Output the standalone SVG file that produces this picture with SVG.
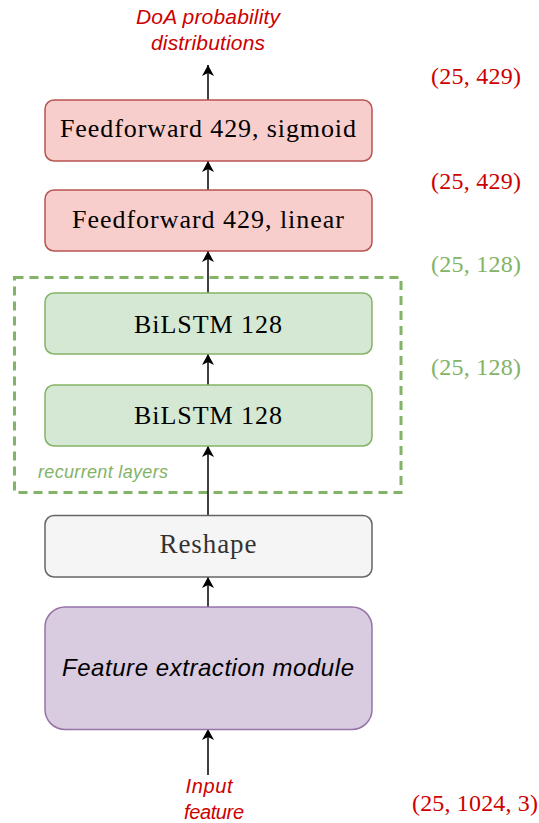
<svg xmlns="http://www.w3.org/2000/svg" width="539" height="823" viewBox="0 0 539 823">
<style>
.node{stroke-width:1.5}
.pink{fill:#f8cecc;stroke:#b85450}
.green{fill:#d5e8d4;stroke:#82b366}
.gray{fill:#f5f5f5;stroke:#666666}
.purple{fill:#d9cbe0;stroke:#9673a6}
.lbl{font-family:"Liberation Serif",serif;font-size:26px;fill:#000;text-anchor:middle}
.sans{font-family:"Liberation Sans",Arial,sans-serif;font-style:italic;text-anchor:middle}
.red{fill:#cc0000}
.math{font-family:"Liberation Serif",serif;font-size:24px}
.conn{stroke:#000;stroke-width:1.5;fill:none;marker-end:url(#arr)}
</style>
<defs>
<marker id="arr" markerUnits="userSpaceOnUse" markerWidth="12" markerHeight="14" viewBox="0 0 12 14" refX="11" refY="7" orient="auto">
<path d="M0,1 L11,7 L0,13 L3,7 Z" fill="#000"/>
</marker>
</defs>
<rect id="recurrent" x="14.5" y="277.5" width="386.5" height="215" fill="none" stroke="#82b366" stroke-width="3" stroke-dasharray="9,6"/>
<text x="38" y="478" class="sans" style="font-size:18px;text-anchor:start;fill:#82b366" textLength="130">recurrent layers</text>
<g id="conns">
<line class="conn" x1="208" y1="100" x2="208" y2="65"/>
<line class="conn" x1="208" y1="190" x2="208" y2="161"/>
<line class="conn" x1="208" y1="293" x2="208" y2="251"/>
<line class="conn" x1="208" y1="385" x2="208" y2="354"/>
<line class="conn" x1="208" y1="515" x2="208" y2="446"/>
<line class="conn" x1="208" y1="607" x2="208" y2="577"/>
<line class="conn" x1="208" y1="775" x2="208" y2="729"/>
</g>
<g id="ff_sigmoid">
<rect class="node pink" x="45" y="100" width="327" height="61" rx="9"/>
<text class="lbl" x="208" y="137" textLength="296">Feedforward 429, sigmoid</text>
</g>
<g id="ff_linear">
<rect class="node pink" x="45" y="190" width="327" height="61" rx="9"/>
<text class="lbl" x="208" y="228" textLength="272">Feedforward 429, linear</text>
</g>
<g id="bilstm1">
<rect class="node green" x="45" y="293" width="327" height="61" rx="9"/>
<text class="lbl" x="208" y="333" textLength="148">BiLSTM 128</text>
</g>
<g id="bilstm2">
<rect class="node green" x="45" y="385" width="327" height="61" rx="9"/>
<text class="lbl" x="208" y="424" textLength="148">BiLSTM 128</text>
</g>
<g id="reshape">
<rect class="node gray" x="45" y="515.5" width="327" height="61.5" rx="9"/>
<text class="lbl" x="208" y="553" style="fill:#333333;font-size:27px" textLength="97">Reshape</text>
</g>
<g id="feature">
<rect class="node purple" x="45" y="607" width="327" height="122.5" rx="20"/>
<text class="sans" x="208" y="676" style="font-size:24px;fill:#000" textLength="292">Feature extraction module</text>
</g>
<g id="output_label">
<text class="sans red" x="208" y="24" style="font-size:21px" textLength="144">DoA probability</text>
<text class="sans red" x="208" y="50" style="font-size:21px" textLength="114">distributions</text>
</g>
<g id="input_label">
<text class="sans red" x="209" y="793" style="font-size:20px" textLength="47">Input</text>
<text class="sans red" x="214" y="819" style="font-size:20px" textLength="60">feature</text>
</g>
<g id="shapes">
<text class="math red" x="431" y="84" textLength="90">(25, 429)</text>
<text class="math red" x="431" y="189" textLength="90">(25, 429)</text>
<text class="math" x="431" y="272" style="fill:#82b366" textLength="90">(25, 128)</text>
<text class="math" x="431" y="375" style="fill:#82b366" textLength="90">(25, 128)</text>
<text class="math red" x="412" y="811" textLength="126">(25, 1024, 3)</text>
</g>
</svg>
